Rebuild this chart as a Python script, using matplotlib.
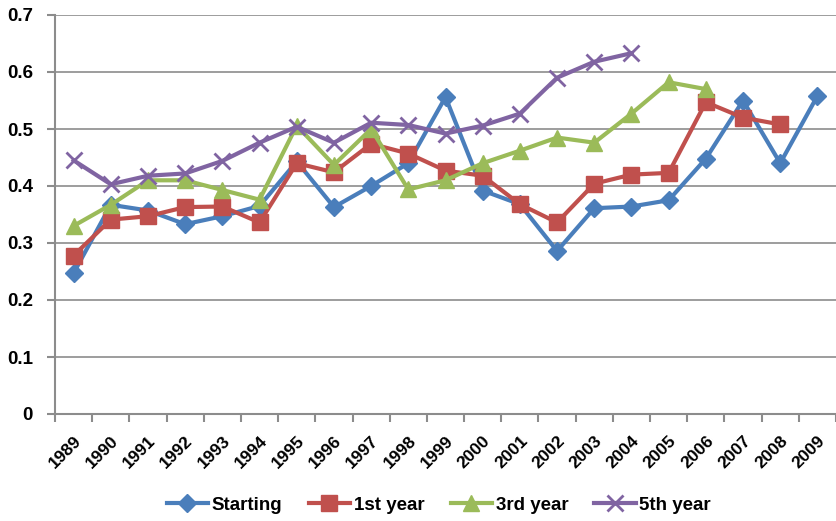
import matplotlib
matplotlib.use("Agg")
import matplotlib.pyplot as plt
import numpy as np

years = [str(y) for y in range(1989, 2010)]

starting = [0.247, 0.367, 0.357, 0.333, 0.347, 0.365, 0.443, 0.363, 0.400, 0.440,
            0.556, 0.392, 0.368, 0.286, 0.361, 0.364, 0.375, 0.448, 0.550, 0.440, 0.558]
first_year = [0.278, 0.341, 0.347, 0.363, 0.364, 0.336, 0.440, 0.424, 0.474, 0.457,
              0.427, 0.418, 0.368, 0.336, 0.404, 0.420, 0.423, 0.547, 0.520, 0.508, None]
third_year = [0.330, 0.367, 0.410, 0.410, 0.393, 0.376, 0.506, 0.437, 0.500, 0.394,
              0.410, 0.440, 0.462, 0.485, 0.476, 0.527, 0.582, 0.570, None, None, None]
fifth_year = [0.445, 0.403, 0.418, 0.422, 0.444, 0.476, 0.504, 0.476, 0.511, 0.507,
              0.492, 0.506, 0.527, 0.590, 0.618, 0.633, None, None, None, None, None]

series = [
    ("Starting", starting, "#4A7EBB", "D", 9),
    ("1st year", first_year, "#C0504D", "s", 11),
    ("3rd year", third_year, "#9BBB59", "^", 11),
    ("5th year", fifth_year, "#8064A2", "x", 11),
]

plt.rcParams["font.family"] = ["Liberation Sans", "DejaVu Sans"]

fig = plt.figure(figsize=(8.36, 5.21), dpi=100)
ax = fig.add_axes([55 / 836, 1 - 414 / 521, 1 - 55 / 836, (414 - 15) / 521])

x = np.arange(len(years))
for name, vals, color, marker, ms in series:
    y = np.array([np.nan if v is None else v for v in vals], dtype=float)
    kw = dict(markeredgewidth=2) if marker == "x" else dict(markeredgecolor=color)
    ax.plot(x, y, color=color, lw=3, marker=marker, markersize=ms,
            markerfacecolor=color, label=name, zorder=3, **kw)

ax.set_ylim(0, 0.7)
ax.set_xlim(-0.5, 20.05)
ax.set_yticks(np.arange(0, 0.71, 0.1))
ax.set_yticklabels(["0"] + [f"{v:.1f}" for v in np.arange(0.1, 0.71, 0.1)],
                   fontsize=13.5, fontweight="bold")
ax.yaxis.grid(True, color="#8C8C8C", lw=1.2)
ax.set_axisbelow(True)

ax.set_xticks(x)
ax.set_xticklabels(years, rotation=45, ha="right", va="top",
                   rotation_mode="anchor", fontsize=12.5, fontweight="bold")
ax.set_xticks(np.arange(-0.5, 20.6, 1), minor=True)
ax.tick_params(axis="x", which="major", length=0, pad=14)
ax.tick_params(axis="x", which="minor", length=6, width=1.5, color="#8C8C8C")
ax.tick_params(axis="y", length=6, width=1.5, color="#8C8C8C", pad=10)

for side in ["top", "right"]:
    ax.spines[side].set_visible(False)
for side in ["left", "bottom"]:
    ax.spines[side].set_color("#8C8C8C")
    ax.spines[side].set_linewidth(1.5)

leg = fig.legend(loc="center", bbox_to_anchor=(0.525, 0.03), ncol=4, frameon=False,
                 prop={"weight": "bold", "size": 13.5}, handlelength=2.2,
                 columnspacing=1.4, handletextpad=0.2)

fig.savefig("out.png", dpi=100)
